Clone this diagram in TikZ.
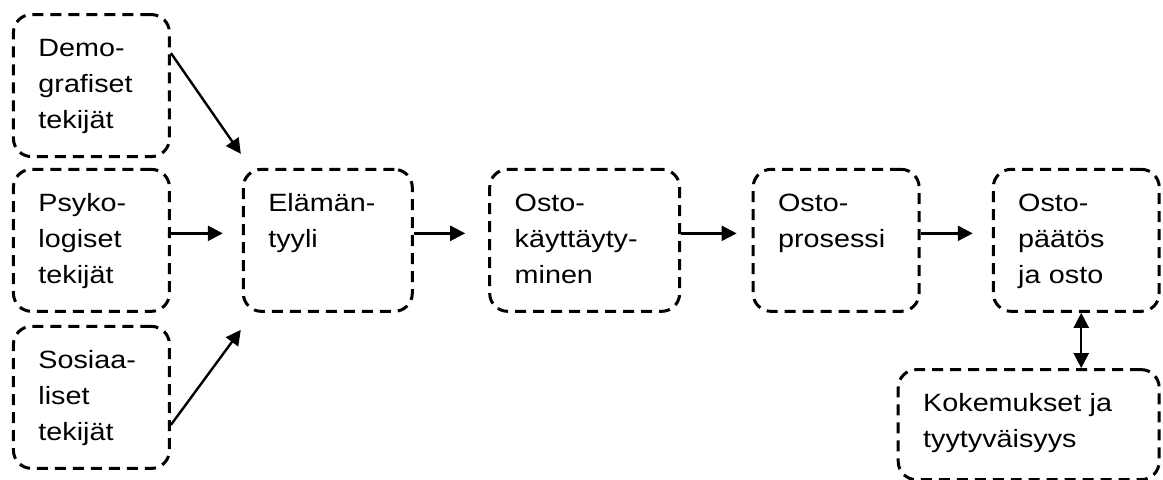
\documentclass[tikz,border=0pt]{standalone}
\usepackage{fontspec}
\setmainfont{Liberation Sans}[FakeStretch=1.15]
\usetikzlibrary{arrows.meta}
\begin{document}
\begin{tikzpicture}[x=1cm,y=1cm,line join=round,>={Triangle[length=7.5pt,width=7.5pt]},
  box/.style={draw,line width=1.5pt,dash pattern=on 5.5pt off 3.5pt,rounded corners=9pt,
    anchor=north west,align=left,text width=#1,inner xsep=12.5pt,inner ysep=12pt,
    text height=9pt,text depth=38pt,font=\fontsize{12.5}{18}\selectfont},
  arr/.style={line width=1.2pt}]
  \useasboundingbox (0,0) rectangle (20.44,8.42);
  % factors on the left
  \node[box=53pt] (demo) at (.21,8.19) {Demo-\\grafiset\\tekijät};
  \node[box=53pt] (psy) at (.21,5.47) {Psyko-\\logiset\\tekijät};
  \node[box=53pt] (soc) at (.21,2.71) {Sosiaa-\\liset\\tekijät};
  % main chain
  \node[box=59.5pt] (life) at (4.25,5.47) {Elämän-\\tyyli};
  \node[box=70pt] (buy) at (8.58,5.47) {Osto-\\käyttäyty-\\minen};
  \node[box=58pt] (proc) at (13.21,5.47) {Osto-\\prosessi};
  \node[box=58pt] (decide) at (17.43,5.47) {Osto-\\päätös\\ja osto};
  \node[box=105.5pt,text depth=22pt] (exper) at (15.76,1.95) {Kokemukset ja\\tyytyväisyys};
  % connectors
  \draw[arr,->] ([yshift=-20pt]demo.north east) -- ([xshift=-.5pt,yshift=7pt]life.north west);
  \draw[arr,->] ([yshift=3.5pt]psy.east) -- ([xshift=-9.5pt,yshift=3.5pt]life.west);
  \draw[arr,->] ([yshift=22.5pt]soc.south east) -- ([xshift=-.5pt,yshift=-8.5pt]life.south west);
  \draw[arr,->] ([yshift=3.5pt]life.east) -- ([xshift=-11.5pt,yshift=3.5pt]buy.west);
  \draw[arr,->] ([yshift=3.5pt]buy.east) -- ([xshift=-7.5pt,yshift=3.5pt]proc.west);
  \draw[arr,->] ([yshift=3.5pt]proc.east) -- ([xshift=-9.5pt,yshift=3.5pt]decide.west);
  \draw[arr,<->] ([xshift=2.5pt]decide.south)
    -- ([xshift=2.5pt]decide.south |- exper.north);
\end{tikzpicture}
\end{document}
